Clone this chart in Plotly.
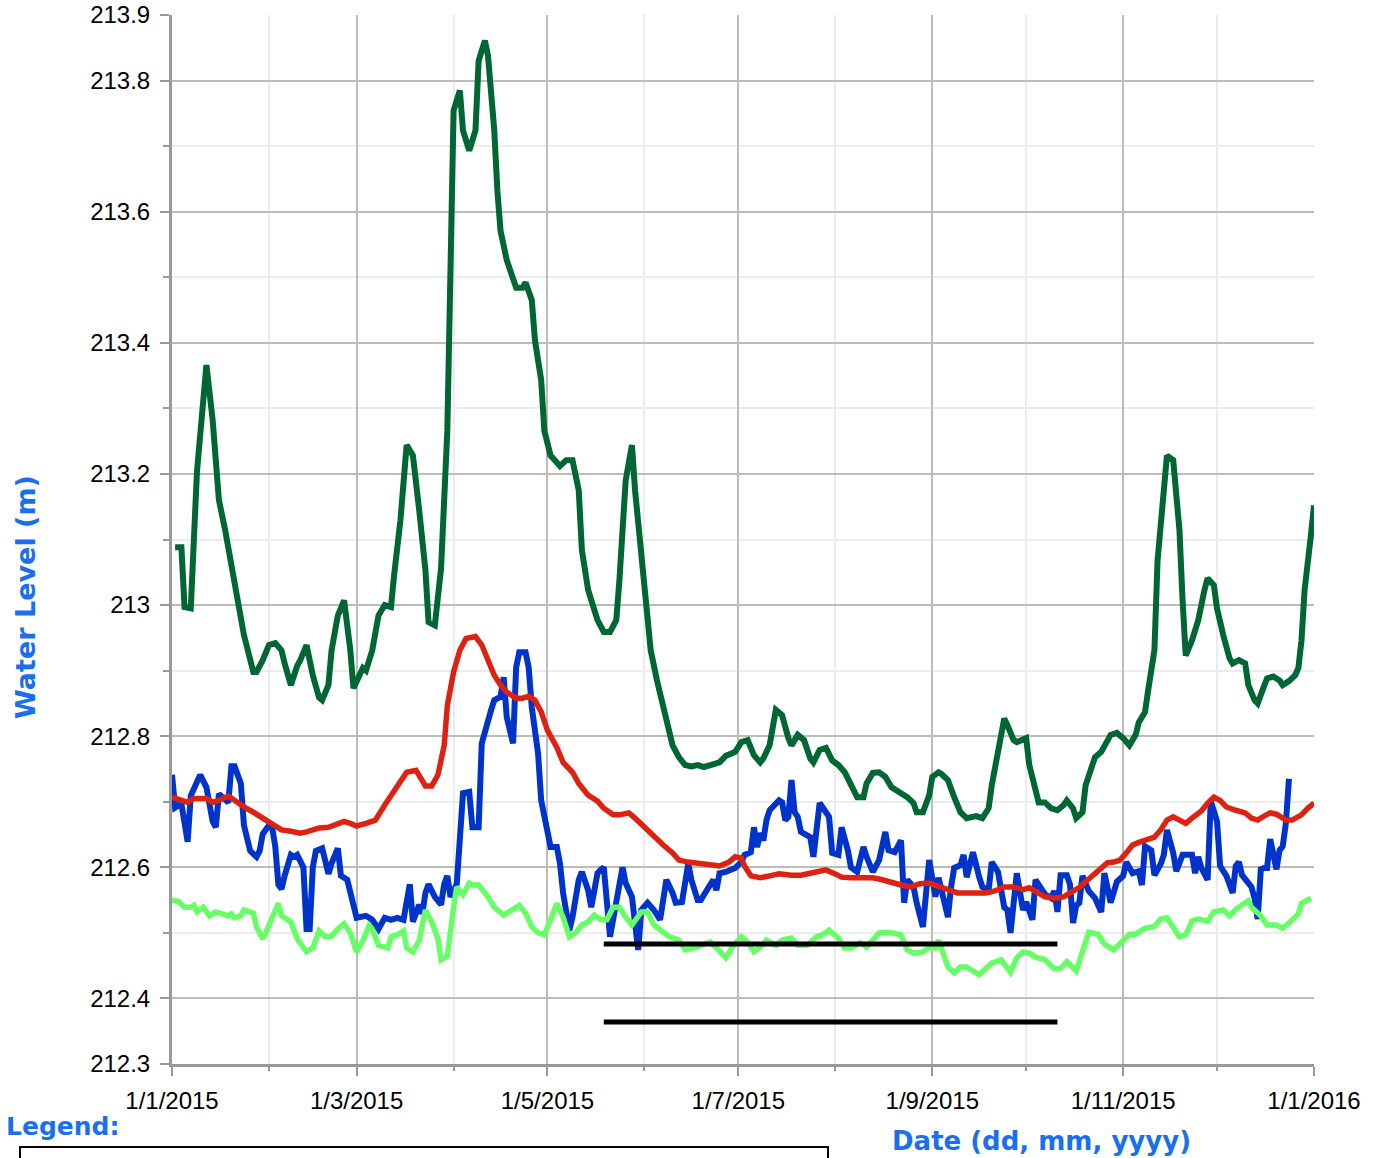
import pandas as pd
import plotly.graph_objects as go

# ---------------- data (day offsets from 1 Jan 2015, water level in m) ----------------
START = "2015-01-01"

dark_green_days = [1, 3, 4, 6, 8, 11, 13, 15, 17, 19, 23, 26, 27, 29, 31, 33, 35, 36, 38, 40,
                   41, 43, 45, 47, 48, 50, 51, 53, 55, 57, 58, 61, 62, 64, 66, 68, 70, 71, 73, 75,
                   77, 79, 81, 82, 84, 86, 88, 89, 90, 92, 93, 95, 97, 98, 100, 101, 103, 104, 105, 107,
                   109, 110, 112, 113, 115, 116, 118, 119, 121, 123, 124, 126, 128, 130, 131, 133, 135, 136, 138, 140,
                   142, 143, 145, 147, 148, 150, 152, 153, 155, 157, 159, 160, 162, 164, 166, 168, 170, 173, 175, 177,
                   180, 182, 184, 186, 188, 189, 191, 193, 195, 197, 198, 200, 202, 204, 205, 207, 209, 211, 213, 215,
                   217, 219, 221, 222, 224, 226, 228, 230, 233, 235, 237, 238, 240, 242, 243, 245, 246, 248, 250, 252,
                   254, 256, 257, 259, 261, 262, 264, 266, 267, 269, 270, 273, 274, 276, 277, 279, 281, 283, 285, 286,
                   288, 289, 291, 292, 294, 295, 297, 299, 300, 302, 304, 306, 308, 309, 311, 312, 314, 315, 317, 318,
                   320, 322, 323, 324, 326, 328, 330, 331, 333, 334, 336, 338, 339, 341, 343, 344, 346, 347, 349, 350,
                   352, 354, 355, 357, 359, 360, 361, 362, 364, 365]
dark_green_level = [213.088, 213.088, 212.997, 212.995, 213.205, 213.366, 213.282, 213.160, 213.114, 213.061,
                    212.954, 212.898, 212.898, 212.916, 212.939, 212.942, 212.931, 212.911, 212.878, 212.907,
                    212.916, 212.939, 212.893, 212.859, 212.855, 212.878, 212.931, 212.984, 213.007, 212.931,
                    212.873, 212.904, 212.900, 212.931, 212.984, 213.000, 212.997, 213.046, 213.129, 213.244,
                    213.228, 213.145, 213.053, 212.974, 212.969, 213.056, 213.266, 213.510, 213.754, 213.785,
                    213.724, 213.693, 213.724, 213.830, 213.861, 213.838, 213.724, 213.632, 213.571, 213.526,
                    213.495, 213.484, 213.484, 213.492, 213.465, 213.404, 213.343, 213.266, 213.228, 213.216,
                    213.212, 213.221, 213.221, 213.175, 213.084, 213.023, 212.992, 212.977, 212.959, 212.959,
                    212.977, 213.038, 213.190, 213.244, 213.175, 213.068, 212.969, 212.931, 212.885, 212.847,
                    212.812, 212.786, 212.768, 212.756, 212.754, 212.756, 212.753, 212.756, 212.760, 212.770,
                    212.776, 212.791, 212.794, 212.771, 212.760, 212.766, 212.786, 212.840, 212.832, 212.797,
                    212.786, 212.802, 212.794, 212.766, 212.760, 212.779, 212.782, 212.763, 212.756, 212.745,
                    212.728, 212.707, 212.707, 212.728, 212.744, 212.745, 212.738, 212.722, 212.713, 212.707,
                    212.698, 212.684, 212.684, 212.710, 212.738, 212.745, 212.742, 212.733, 212.707, 212.684,
                    212.675, 212.678, 212.678, 212.675, 212.690, 212.725, 212.779, 212.827, 212.817, 212.794,
                    212.791, 212.797, 212.756, 212.718, 212.699, 212.699, 212.690, 212.687, 212.695, 212.702,
                    212.690, 212.675, 212.684, 212.725, 212.756, 212.768, 212.776, 212.794, 212.802, 212.805,
                    212.797, 212.786, 212.802, 212.821, 212.837, 212.870, 212.931, 213.068, 213.175, 213.228,
                    213.221, 213.114, 213.007, 212.923, 212.946, 212.977, 213.023, 213.041, 213.030, 212.995,
                    212.954, 212.919, 212.911, 212.916, 212.911, 212.878, 212.855, 212.850, 212.876, 212.888,
                    212.891, 212.885, 212.878, 212.884, 212.893, 212.904, 212.946, 213.023, 213.106, 213.152]

red_days = [0, 3, 5, 7, 11, 13, 15, 18, 20, 23, 26, 29, 32, 35, 38, 41, 43, 47, 50, 53,
            55, 57, 59, 62, 65, 68, 71, 73, 75, 78, 79, 81, 83, 85, 87, 88, 90, 92, 94, 97,
            99, 101, 103, 105, 107, 110, 112, 114, 116, 118, 120, 123, 125, 128, 130, 133, 136, 138, 141, 143,
            146, 148, 151, 154, 157, 160, 162, 165, 167, 170, 173, 175, 178, 180, 182, 183, 185, 188, 191, 194,
            198, 201, 204, 206, 209, 212, 214, 217, 221, 224, 227, 230, 233, 236, 239, 242, 245, 248, 251, 254,
            257, 260, 263, 266, 269, 272, 274, 277, 279, 282, 285, 287, 290, 292, 294, 297, 299, 301, 303, 305,
            307, 309, 312, 314, 316, 318, 320, 322, 324, 326, 329, 331, 333, 335, 337, 340, 343, 345, 347, 349,
            351, 353, 356, 358, 361, 363, 365]
red_level = [212.707, 212.702, 212.699, 212.705, 212.705, 212.699, 212.702, 212.709, 212.702, 212.692,
             212.684, 212.675, 212.664, 212.657, 212.655, 212.652, 212.654, 212.660, 212.661, 212.666,
             212.670, 212.667, 212.663, 212.667, 212.672, 212.695, 212.718, 212.733, 212.745, 212.748,
             212.739, 212.724, 212.724, 212.741, 212.786, 212.847, 212.898, 212.931, 212.949, 212.952,
             212.939, 212.916, 212.893, 212.878, 212.867, 212.858, 212.858, 212.861, 212.855, 212.837,
             212.809, 212.783, 212.760, 212.745, 212.728, 212.710, 212.701, 212.690, 212.680, 212.680,
             212.683, 212.675, 212.661, 212.649, 212.634, 212.622, 212.611, 212.608, 212.607, 212.605,
             212.602, 212.602, 212.608, 212.616, 212.614, 212.602, 212.587, 212.584, 212.587, 212.590,
             212.588, 212.588, 212.591, 212.593, 212.596, 212.590, 212.585, 212.584, 212.584, 212.584,
             212.581, 212.576, 212.573, 212.570, 212.575, 212.576, 212.570, 212.566, 212.561, 212.561,
             212.561, 212.561, 212.564, 212.570, 212.570, 212.566, 212.569, 212.561, 212.555, 212.553,
             212.555, 212.561, 212.569, 212.578, 212.587, 212.599, 212.607, 212.608, 212.611, 212.622,
             212.634, 212.638, 212.642, 212.646, 212.657, 212.672, 212.677, 212.672, 212.667, 212.675,
             212.686, 212.698, 212.707, 212.702, 212.692, 212.687, 212.683, 212.675, 212.672, 212.678,
             212.683, 212.681, 212.672, 212.672, 212.680, 212.690, 212.698]

blue_days = [0, 1, 3, 5, 6, 9, 11, 13, 14, 15, 18, 19, 20, 22, 23, 25, 27, 28, 29, 31,
             32, 33, 34, 35, 36, 38, 39, 40, 42, 43, 44, 45, 46, 48, 50, 51, 53, 54, 56, 58,
             59, 62, 64, 66, 68, 70, 72, 74, 76, 77, 79, 80, 81, 82, 84, 86, 87, 88, 89, 91,
             93, 95, 96, 98, 99, 102, 103, 105, 106, 107, 109, 110, 111, 113, 114, 115, 117, 118, 120, 121,
             123, 124, 125, 127, 128, 130, 131, 133, 134, 136, 137, 138, 140, 142, 144, 145, 147, 149, 150, 152,
             154, 156, 158, 160, 161, 163, 165, 166, 168, 169, 171, 173, 174, 175, 177, 180, 182, 183, 185, 186,
             187, 188, 189, 190, 191, 193, 194, 195, 196, 197, 198, 199, 200, 201, 202, 204, 205, 207, 210, 211,
             213, 214, 216, 217, 219, 221, 222, 224, 226, 228, 229, 231, 233, 234, 235, 237, 238, 240, 242, 244,
             245, 246, 248, 249, 250, 252, 253, 254, 256, 258, 259, 261, 262, 264, 265, 266, 267, 268, 270, 272,
             273, 275, 276, 279, 281, 282, 283, 284, 286, 287, 288, 289, 290, 291, 293, 295, 297, 298, 300, 302,
             304, 305, 307, 309, 310, 311, 313, 314, 316, 317, 318, 320, 321, 323, 324, 326, 327, 328, 329, 331,
             332, 334, 335, 337, 339, 340, 341, 342, 345, 346, 347, 348, 349, 350, 351, 353, 354, 355, 356, 357]
blue_level = [212.741, 212.691, 212.697, 212.639, 212.709, 212.741, 212.722, 212.670, 212.661, 212.712,
              212.699, 212.754, 212.754, 212.728, 212.664, 212.625, 212.616, 212.625, 212.651, 212.664,
              212.661, 212.632, 212.574, 212.567, 212.587, 212.619, 212.616, 212.619, 212.600, 212.506,
              212.506, 212.600, 212.625, 212.629, 212.590, 212.606, 212.629, 212.587, 212.581, 212.535,
              212.523, 212.526, 212.520, 212.506, 212.523, 212.520, 212.523, 212.520, 212.574, 212.517,
              212.543, 212.529, 212.561, 212.574, 212.555, 212.543, 212.574, 212.587, 212.555, 212.574,
              212.713, 212.715, 212.661, 212.661, 212.789, 212.840, 212.855, 212.860, 212.890, 212.829,
              212.789, 212.905, 212.928, 212.928, 212.905, 212.844, 212.774, 212.702, 212.657, 212.631,
              212.631, 212.606, 212.561, 212.504, 212.524, 212.581, 212.593, 212.565, 212.539, 212.591,
              212.596, 212.600, 212.494, 212.550, 212.600, 212.576, 212.555, 212.474, 212.535, 212.546,
              212.535, 212.520, 212.581, 212.561, 212.546, 212.547, 212.606, 212.581, 212.550, 212.550,
              212.565, 212.581, 212.565, 212.591, 212.593, 212.599, 212.608, 212.619, 212.623, 212.661,
              212.631, 212.652, 212.641, 212.672, 212.687, 212.698, 212.702, 212.699, 212.672, 212.677,
              212.733, 212.684, 212.677, 212.654, 212.652, 212.646, 212.616, 212.698, 212.677, 212.622,
              212.619, 212.661, 212.626, 212.600, 212.593, 212.631, 212.616, 212.593, 212.611, 212.654,
              212.626, 212.623, 212.641, 212.546, 212.581, 212.570, 212.546, 212.509, 212.611, 212.555,
              212.584, 212.561, 212.524, 212.570, 212.599, 212.603, 212.619, 212.585, 212.623, 212.585,
              212.570, 212.565, 212.608, 212.593, 212.561, 212.539, 212.535, 212.500, 212.591, 212.535,
              212.547, 212.520, 212.581, 212.559, 212.553, 212.564, 212.532, 212.588, 212.588, 212.574,
              212.515, 212.542, 212.546, 212.587, 212.564, 212.553, 212.532, 212.591, 212.546, 212.578,
              212.587, 212.608, 212.591, 212.594, 212.573, 212.632, 212.626, 212.588, 212.605, 212.619,
              212.657, 212.622, 212.594, 212.619, 212.619, 212.619, 212.591, 212.616, 212.599, 212.581,
              212.701, 212.670, 212.602, 212.587, 212.561, 212.602, 212.608, 212.588, 212.570, 212.553,
              212.521, 212.597, 212.599, 212.599, 212.643, 212.597, 212.626, 212.632, 212.667, 212.735]

light_green_days = [0, 2, 4, 6, 7, 8, 10, 12, 14, 16, 18, 19, 20, 22, 23, 26, 27, 29, 30, 32,
                    34, 35, 38, 40, 43, 45, 47, 49, 51, 53, 55, 57, 59, 61, 63, 64, 66, 69, 70, 72,
                    74, 75, 77, 79, 81, 83, 85, 86, 88, 90, 91, 93, 95, 96, 98, 101, 103, 106, 109, 111,
                    113, 115, 117, 119, 121, 123, 125, 127, 129, 131, 133, 135, 137, 139, 141, 143, 145, 147, 150, 152,
                    154, 157, 159, 162, 164, 167, 169, 172, 174, 177, 179, 182, 184, 186, 188, 190, 193, 195, 198, 200,
                    203, 206, 208, 210, 213, 215, 217, 220, 222, 224, 226, 229, 230, 233, 235, 237, 240, 242, 244, 245,
                    248, 250, 252, 254, 258, 260, 262, 265, 267, 268, 270, 272, 274, 276, 279, 282, 284, 286, 289, 291,
                    293, 296, 298, 301, 304, 306, 308, 311, 314, 316, 318, 320, 322, 324, 326, 328, 331, 333, 336, 338,
                    340, 344, 345, 348, 350, 353, 355, 357, 360, 361, 364]
light_green_level = [212.550, 212.548, 212.539, 212.539, 212.542, 212.532, 212.539, 212.526, 212.532, 212.530,
                     212.526, 212.529, 212.523, 212.526, 212.535, 212.530, 212.509, 212.491, 212.500, 212.523,
                     212.545, 212.526, 212.517, 212.491, 212.471, 212.477, 212.503, 212.494, 212.495, 212.506,
                     212.514, 212.500, 212.471, 212.488, 212.511, 212.506, 212.481, 212.477, 212.494, 212.497,
                     212.503, 212.477, 212.471, 212.488, 212.535, 212.517, 212.491, 212.459, 212.465, 212.539,
                     212.570, 212.558, 212.576, 212.573, 212.573, 212.555, 212.539, 212.527, 212.535, 212.542,
                     212.530, 212.509, 212.500, 212.497, 212.520, 212.545, 212.524, 212.494, 212.500, 212.512,
                     212.517, 212.527, 212.520, 212.520, 212.539, 212.539, 212.524, 212.512, 212.532, 212.532,
                     212.512, 212.500, 212.494, 212.489, 212.474, 212.477, 212.481, 212.486, 212.477, 212.462,
                     212.478, 212.494, 212.486, 212.471, 212.478, 212.489, 212.481, 212.489, 212.492, 212.481,
                     212.481, 212.494, 212.497, 212.504, 212.492, 212.477, 212.477, 212.485, 212.478, 212.489,
                     212.500, 212.501, 212.500, 212.497, 212.474, 212.469, 212.471, 212.478, 212.477, 212.489,
                     212.448, 212.439, 212.448, 212.448, 212.436, 212.446, 212.454, 212.459, 212.448, 212.440,
                     212.462, 212.471, 212.469, 212.463, 212.459, 212.445, 212.446, 212.456, 212.442, 212.472,
                     212.501, 212.498, 212.483, 212.474, 212.488, 212.498, 212.498, 212.507, 212.510, 212.521,
                     212.523, 212.510, 212.494, 212.497, 212.518, 212.521, 212.518, 212.532, 212.535, 212.526,
                     212.536, 212.549, 212.539, 212.526, 212.512, 212.512, 212.507, 212.515, 212.529, 212.545,
                     212.553]

threshold_start = "2015-05-19"
threshold_end = "2015-10-11"
threshold_levels = [212.483, 212.364]

x_major_vals = ["2015-01-01", "2015-03-01", "2015-05-01", "2015-07-01", "2015-09-01", "2015-11-01", "2016-01-01"]
x_major_text = ["1/1/2015", "1/3/2015", "1/5/2015", "1/7/2015", "1/9/2015", "1/11/2015", "1/1/2016"]
x_minor_vals = ["2015-02-01", "2015-04-01", "2015-06-01", "2015-08-01", "2015-10-01", "2015-12-01"]
y_major_vals = [212.3, 212.4, 212.6, 212.8, 213.0, 213.2, 213.4, 213.6, 213.8, 213.9]
y_major_text = ["212.3", "212.4", "212.6", "212.8", "213", "213.2", "213.4", "213.6", "213.8", "213.9"]
y_minor_vals = [212.5, 212.7, 212.9, 213.1, 213.3, 213.5, 213.7]


def to_dates(days):
    return list(pd.Timestamp(START) + pd.to_timedelta(days, unit="D"))


fig = go.Figure()
fig.add_trace(go.Scatter(x=to_dates(blue_days), y=blue_level, mode="lines",
                         line=dict(color="#0033cc", width=6)))
fig.add_trace(go.Scatter(x=to_dates(light_green_days), y=light_green_level, mode="lines",
                         line=dict(color="#66ff66", width=5.5)))
fig.add_trace(go.Scatter(x=to_dates(red_days), y=red_level, mode="lines",
                         line=dict(color="#dd2211", width=5.5)))
fig.add_trace(go.Scatter(x=to_dates(dark_green_days), y=dark_green_level, mode="lines",
                         line=dict(color="#006633", width=6)))
for lvl in threshold_levels:
    fig.add_trace(go.Scatter(x=[threshold_start, threshold_end], y=[lvl, lvl], mode="lines",
                             line=dict(color="#000000", width=5)))

BLUE_TXT = "#1a6ff0"
L, R, T, B = 172, 67, 15, 94
W, H = 1381, 1158
pw, ph = W - L - R, H - T - B


def px_x(px):
    return (px - L) / pw


def px_y(py):
    return (H - B - py) / ph


tick_font = dict(family="Liberation Sans, Arial, sans-serif", size=24, color="#000000")

fig.update_layout(
    template="none",
    width=W, height=H, autosize=False,
    margin=dict(l=L, r=R, t=T, b=B, pad=0),
    paper_bgcolor="#ffffff", plot_bgcolor="#ffffff",
    showlegend=False,
    xaxis=dict(
        type="date", range=["2015-01-01", "2016-01-01"], automargin=False,
        tickmode="array", tickvals=x_major_vals, ticktext=x_major_text,
        tickfont=tick_font, ticks="outside", ticklen=9, tickwidth=2, tickcolor="#999999",
        ticklabelstandoff=4,
        showgrid=True, gridcolor="#bdbdb7", gridwidth=2,
        showline=True, linecolor="#999999", linewidth=3, zeroline=False,
        minor=dict(tickmode="array", tickvals=x_minor_vals, showgrid=True, gridcolor="#ececec",
                   gridwidth=2, ticks="outside", ticklen=4, tickwidth=2, tickcolor="#999999"),
    ),
    yaxis=dict(
        range=[212.3, 213.9], automargin=False,
        tickmode="array", tickvals=y_major_vals, ticktext=y_major_text,
        tickfont=tick_font, ticks="outside", ticklen=9, tickwidth=2, tickcolor="#999999",
        ticklabelstandoff=5,
        showgrid=True, gridcolor="#bdbdb7", gridwidth=2,
        showline=True, linecolor="#999999", linewidth=3, zeroline=False,
        minor=dict(tickmode="array", tickvals=y_minor_vals, showgrid=True, gridcolor="#ececec",
                   gridwidth=2, ticks="outside", ticklen=6, tickwidth=2, tickcolor="#999999"),
    ),
    annotations=[
        dict(text="<b>Water Level (m)</b>", xref="paper", yref="paper", x=px_x(25), y=px_y(597),
             xanchor="center", yanchor="middle", textangle=-90, showarrow=False,
             font=dict(family="DejaVu Sans, Verdana, sans-serif", size=27, color=BLUE_TXT)),
        dict(text="<b>Date (dd, mm, yyyy)</b>", xref="paper", yref="paper", x=px_x(1041), y=px_y(1141),
             xanchor="center", yanchor="middle", showarrow=False,
             font=dict(family="DejaVu Sans, Verdana, sans-serif", size=26, color=BLUE_TXT)),
        dict(text="<b>Legend:</b>", xref="paper", yref="paper", x=px_x(4), y=px_y(1126),
             xanchor="left", yanchor="middle", showarrow=False,
             font=dict(family="DejaVu Sans, Verdana, sans-serif", size=25, color=BLUE_TXT)),
    ],
    shapes=[
        dict(type="rect", xref="paper", yref="paper", x0=px_x(20), x1=px_x(828),
             y0=px_y(1190), y1=px_y(1147), line=dict(color="#000000", width=2),
             fillcolor="rgba(0,0,0,0)", layer="above"),
    ],
)

fig.write_html(
    "out.html",
    config={"displayModeBar": False},
    post_script="document.body.style.margin='0';document.body.style.padding='0';"
                "document.body.style.overflow='hidden';",
)
